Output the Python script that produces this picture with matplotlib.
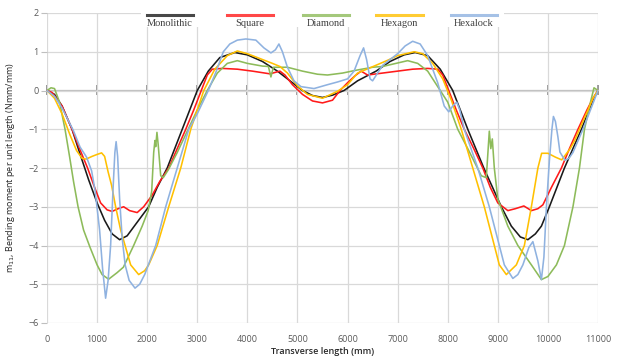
import matplotlib.pyplot as plt
from matplotlib.lines import Line2D
from matplotlib.patches import Rectangle

# Transverse position (mm) and bending moment m11 (Nmm/mm) per model
mono_x = [0, 150, 300, 500, 650, 830, 1000, 1150, 1300, 1450, 1600, 1800, 2030, 2200,
          2400, 2550, 2700, 2850, 3000, 3220, 3450, 3750, 4000, 4300, 4600, 4900, 5100,
          5300, 5500, 5700, 5930, 6200, 6570, 6850, 7130, 7350, 7600, 7850, 8100, 8250,
          8400, 8720, 9070, 9270, 9450, 9600, 9750, 9870, 10030, 10330, 10670, 10900, 11000]
mono_y = [0, -0.1, -0.4, -1.0, -1.6, -2.3, -2.9, -3.35, -3.7, -3.85, -3.75, -3.4, -3.0, -2.5,
          -2.0, -1.5, -1.0, -0.5, 0.0, 0.5, 0.85, 0.98, 0.92, 0.75, 0.5, 0.2, 0.0,
          -0.13, -0.18, -0.12, 0.0, 0.25, 0.5, 0.75, 0.92, 0.98, 0.9, 0.55, 0.0, -0.5,
          -1.0, -2.0, -3.0, -3.5, -3.78, -3.85, -3.7, -3.5, -3.0, -2.0, -1.0, -0.24, 0]

square_x = [0, 100, 300, 500, 650, 810, 950, 1070, 1200, 1300, 1420, 1530, 1650, 1800, 1930,
            2100, 2250, 2430, 2600, 2770, 2930, 3080, 3200, 3300, 3500, 3800, 4100, 4450,
            4650, 4750, 4900, 5100, 5300, 5500, 5700, 5850, 6000, 6150, 6270, 6400, 6700,
            7000, 7300, 7600, 7800, 7900, 8020, 8170, 8330, 8520, 8700, 8850, 9000, 9200,
            9350, 9520, 9670, 9800, 9900, 10070, 10270, 10430, 10600, 10780, 10900, 11000]
square_y = [0, -0.05, -0.4, -1.0, -1.5, -2.0, -2.5, -2.9, -3.08, -3.12, -3.05, -3.0, -3.1, -3.15, -3.0,
            -2.7, -2.35, -2.0, -1.5, -1.0, -0.5, 0.0, 0.4, 0.55, 0.57, 0.55, 0.5, 0.43,
            0.5, 0.4, 0.15, -0.1, -0.27, -0.32, -0.25, 0.0, 0.2, 0.38, 0.5, 0.4, 0.45,
            0.5, 0.55, 0.57, 0.55, 0.4, 0.0, -0.5, -1.0, -1.5, -2.0, -2.5, -2.9, -3.1,
            -3.05, -2.98, -3.1, -3.05, -2.95, -2.5, -2.0, -1.5, -1.0, -0.5, -0.2, 0]

diamond_x = [0, 80, 150, 250, 360, 450, 530, 620, 730, 860, 1000, 1100, 1230, 1400, 1525,
             1730, 1900, 2020, 2090, 2130, 2155, 2170, 2195, 2220, 2270, 2320, 2420, 2600,
             2800, 3000, 3200, 3400, 3600, 3800, 4000, 4300, 4420, 4470, 4520, 4800, 5100,
             5400, 5600, 5900, 6200, 6500, 6700, 6900, 7200, 7400, 7600, 7800, 8000, 8200,
             8400, 8670, 8770, 8830, 8860, 8890, 8930, 9000, 9200, 9400, 9670, 9870, 10000,
             10170, 10330, 10500, 10630, 10730, 10850, 10920, 11000]
diamond_y = [0, 0.07, 0.05, -0.3, -1.0, -1.7, -2.35, -3.0, -3.6, -4.05, -4.5, -4.75, -4.87, -4.7, -4.56,
             -4.0, -3.5, -3.1, -2.6, -1.6, -1.29, -1.45, -1.08, -1.4, -2.2, -2.25, -2.05, -1.6,
             -1.05, -0.5, 0.0, 0.45, 0.7, 0.77, 0.7, 0.63, 0.62, 0.35, 0.6, 0.6, 0.5,
             0.42, 0.4, 0.45, 0.53, 0.6, 0.62, 0.68, 0.77, 0.7, 0.5, 0.1, -0.3, -1.0,
             -1.5, -2.2, -2.25, -1.05, -1.5, -1.25, -2.0, -2.8, -3.5, -4.0, -4.5, -4.88, -4.8,
             -4.5, -4.0, -3.0, -2.0, -1.0, -0.3, 0.07, 0]

hexagon_x = [0, 150, 300, 460, 590, 700, 780, 900, 1000, 1090, 1150, 1220, 1290, 1370, 1470,
             1570, 1670, 1830, 1950, 2030, 2200, 2430, 2670, 2870, 3000, 3130, 3350, 3600,
             3800, 4000, 4200, 4500, 4650, 4800, 5000, 5200, 5500, 5800, 6000, 6200, 6530,
             6800, 7000, 7330, 7500, 7700, 7900, 8070, 8270, 8500, 8730, 8930, 9030, 9170,
             9370, 9530, 9670, 9800, 9875, 10000, 10150, 10275, 10440, 10530, 10630, 10800,
             10900, 11000]
hexagon_y = [0, -0.2, -0.6, -1.15, -1.55, -1.75, -1.77, -1.7, -1.65, -1.61, -1.7, -2.1, -2.45, -3.0, -3.6,
             -4.05, -4.5, -4.75, -4.65, -4.5, -4.0, -3.0, -2.0, -1.0, -0.5, 0.0, 0.55, 0.9,
             1.02, 0.95, 0.85, 0.7, 0.62, 0.45, 0.12, -0.1, -0.2, -0.02, 0.15, 0.45, 0.63,
             0.78, 0.9, 1.0, 0.95, 0.7, 0.3, -0.24, -1.0, -2.0, -3.0, -4.0, -4.5, -4.75,
             -4.5, -4.0, -3.0, -2.0, -1.62, -1.62, -1.72, -1.79, -1.51, -1.3, -1.0, -0.5,
             -0.2, 0]

hexalock_x = [0, 150, 300, 525, 660, 790, 890, 960, 1050, 1110, 1170, 1220, 1270, 1320, 1355,
              1380, 1410, 1450, 1500, 1560, 1640, 1757, 1850, 1950, 2170, 2370, 2600, 2830,
              3000, 3220, 3380, 3520, 3650, 3800, 3970, 4170, 4330, 4470, 4560, 4630, 4700,
              4800, 4930, 5070, 5330, 5600, 5800, 6000, 6130, 6250, 6320, 6380, 6450, 6500,
              6600, 6700, 7000, 7150, 7300, 7450, 7600, 7800, 7930, 8020, 8100, 8180, 8240,
              8330, 8600, 8830, 9030, 9130, 9300, 9400, 9500, 9620, 9700, 9800, 9870, 9920,
              9970, 10030, 10080, 10110, 10150, 10200, 10240, 10340, 10420, 10500, 10700,
              10850, 11000]
hexalock_y = [0, -0.15, -0.45, -1.03, -1.46, -1.72, -2.07, -2.58, -3.6, -4.6, -5.36, -4.9, -4.0, -2.5, -1.6,
              -1.32, -1.7, -2.8, -3.8, -4.5, -4.9, -5.1, -5.0, -4.75, -4.0, -3.0, -2.0, -1.0,
              -0.6, 0.0, 0.5, 1.0, 1.2, 1.3, 1.33, 1.3, 1.1, 0.97, 1.05, 1.2, 1.0,
              0.6, 0.25, 0.1, 0.05, 0.15, 0.22, 0.3, 0.5, 0.9, 1.1, 0.8, 0.3, 0.25,
              0.45, 0.65, 0.95, 1.15, 1.27, 1.2, 0.9, 0.2, -0.4, -0.55, -0.4, -0.3, -0.5,
              -1.0, -2.0, -3.0, -4.0, -4.5, -4.85, -4.75, -4.5, -4.05, -3.9, -4.4, -4.88, -4.3,
              -3.0, -1.8, -1.0, -0.67, -0.8, -1.2, -1.59, -1.8, -1.75, -1.6, -1.0,
              -0.5, 0]

series = [
    ("Monolithic", mono_x, mono_y, "#1a1a1a"),
    ("Square", square_x, square_y, "#ff1a1a"),
    ("Diamond", diamond_x, diamond_y, "#8dbb5a"),
    ("Hexagon", hexagon_x, hexagon_y, "#ffc000"),
    ("Hexalock", hexalock_x, hexalock_y, "#8fb2e0"),
]

x_ticks = list(range(0, 11001, 1000))
y_ticks = list(range(-6, 3))

plt.rcParams["font.family"] = ["Open Sans", "DejaVu Sans"]

fig = plt.figure(figsize=(6.21, 3.6), dpi=100)
ax = fig.add_axes([47 / 621, 37 / 360, 551 / 621, 310 / 360])

for label, xs, ys, color in series:
    ax.plot(xs, ys, color=color, linewidth=1.15, solid_joinstyle="round", zorder=3)

ax.set_xlim(0, 11000)
ax.set_ylim(-6, 2)
ax.set_xticks(x_ticks)
ax.set_yticks(y_ticks)
ax.grid(True, color="#d9d9d9", linewidth=0.9, zorder=0)
ax.set_axisbelow(True)
for side in ("top", "right", "left", "bottom"):
    ax.spines[side].set_visible(False)
ax.tick_params(axis="x", length=0, pad=9, labelsize=6.5, labelcolor="#595959")
ax.tick_params(axis="y", length=4, width=0.8, color="#bfbfbf", pad=2,
               labelsize=6.5, labelcolor="#595959")

# horizontal axis line crossing at zero with Excel-style tick marks
zero_frac = (0 - (-6)) / (2 - (-6))
sec = ax.secondary_xaxis(zero_frac)
sec.set_xticks(x_ticks)
sec.tick_params(axis="x", direction="inout", length=7, width=1.1, color="#7a7a7a",
                labelbottom=False, labeltop=False)
sec.spines["bottom"].set_color("#bfbfbf")
sec.spines["top"].set_color("#bfbfbf")
sec.spines["top"].set_linewidth(0.9)

ax.set_xlabel("Transverse length (mm)", fontsize=6.5, color="#262626",
              fontweight="semibold", labelpad=2)
ax.set_ylabel("m$_{11}$, Bending moment per unit length (Nmm/mm)", fontsize=6.5,
              color="#262626", labelpad=8)

# legend: line sample above each label
ax.add_patch(Rectangle((0.17, 0.955), 0.66, 0.06, transform=ax.transAxes,
                       facecolor="white", edgecolor="none", zorder=4, clip_on=False))
centers = [0.223, 0.368, 0.506, 0.640, 0.775]
for (label, _, _, color), cx in zip(series, centers):
    ax.add_line(Line2D([cx - 0.042, cx + 0.042], [0.994, 0.994], transform=ax.transAxes,
                       color=color, linewidth=2.2, alpha=0.8, zorder=5, clip_on=False))
    ax.text(cx, 0.967, label, transform=ax.transAxes, ha="center", va="center",
            fontsize=7.5, family=["Liberation Serif", "DejaVu Serif"], color="#404040",
            zorder=5)

fig.savefig("out.png", dpi=100)
